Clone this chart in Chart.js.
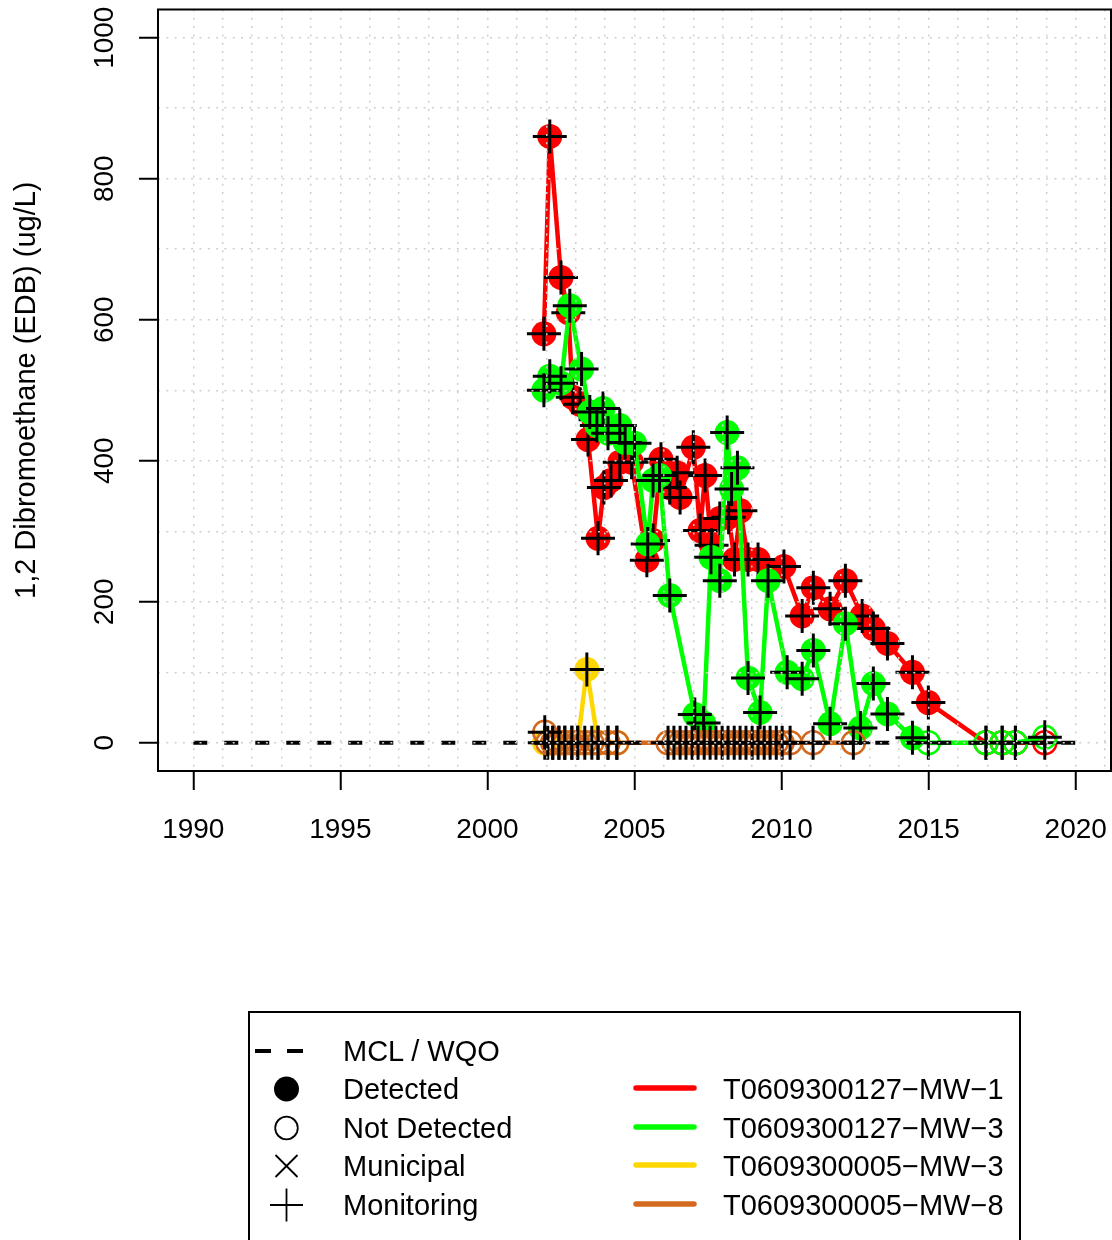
<!DOCTYPE html>
<html>
<head>
<meta charset="utf-8">
<title>1,2 Dibromoethane (EDB)</title>
<script src="https://cdn.jsdelivr.net/npm/chart.js@4/dist/chart.umd.min.js"></script>
<style>
  html, body { margin: 0; padding: 0; background: #fff; }
  body { width: 1112px; height: 1240px; position: relative; overflow: hidden;
         font-family: "Liberation Sans", Arial, Helvetica, sans-serif; color: #000; }
  #plot { position: absolute; left: 0; top: 0; }
  #keyBox { position: absolute; left: 248px; top: 1011px; width: 773px; height: 300px;
            border: 2px solid #000; box-sizing: border-box; }
  #keySymbols { position: absolute; left: 0; top: 0; }
  .keyText { position: absolute; font-size: 29px; line-height: 34px; white-space: nowrap; }
</style>
</head>
<body>
<canvas id="plot" width="1112" height="870"></canvas>
<div id="keyBox"></div>
<svg id="keySymbols" width="1112" height="1240"></svg>
<div id="keyTexts"></div>
<script>
// ---- sampling dates (decimal years) and concentrations (ug/L) ----
const mw1Years = [2001.92, 2002.12, 2002.5, 2002.75, 2002.9, 2003.15, 2003.42, 2003.76, 2003.96, 2004.2,
                  2004.5, 2004.9, 2005.42, 2005.63, 2005.9, 2006.2, 2006.45, 2006.55, 2007.0, 2007.23,
                  2007.4, 2007.62, 2007.9, 2008.2, 2008.4, 2008.6, 2008.86, 2009.2, 2010.08, 2010.7,
                  2011.08, 2011.65, 2012.17, 2012.74, 2013.12, 2013.6, 2014.45, 2014.99, 2016.95, 2017.5,
                  2017.95, 2018.95];
const mw1Values = [580, 860, 660, 610, 490, 480, 430, 290, 362, 372,
                   398, 398, 259, 287, 402, 362, 383, 348, 419, 301,
                   379, 280, 318, 320, 260, 329, 260, 260, 250, 180,
                   220, 190, 230, 180, 162, 141, 100, 57, 0, 0,
                   0, 0];
const mw1Detected = [1,1,1,1,1,1,1,1,1,1, 1,1,1,1,1,1,1,1,1,1, 1,1,1,1,1,1,1,1,1,1, 1,1,1,1,1,1,1,1,0,0, 0,0];

const mw3Years = [2001.92, 2002.12, 2002.5, 2002.8, 2003.2, 2003.48, 2003.72, 2003.93, 2004.1, 2004.5,
                  2004.68, 2005.0, 2005.45, 2005.63, 2005.85, 2006.2, 2007.05, 2007.35, 2007.6, 2007.9,
                  2008.15, 2008.3, 2008.5, 2008.86, 2009.27, 2009.54, 2010.19, 2010.7, 2011.08, 2011.65,
                  2012.17, 2012.68, 2013.12, 2013.6, 2014.45, 2014.99, 2016.95, 2017.5, 2017.95, 2018.95];
const mw3Values = [500, 520, 510, 620, 530, 469, 450, 474, 439, 450,
                   426, 425, 282, 372, 379, 209, 40, 28, 263, 230,
                   440, 360, 390, 92, 43, 230, 100, 91, 131, 27,
                   169, 21, 84, 41, 7, 0, 0, 0, 0, 8];
const mw3Detected = [1,1,1,1,1,1,1,1,1,1, 1,1,1,1,1,1,1,1,1,1, 1,1,1,1,1,1,1,1,1,1, 1,1,1,1,1,0,0,0,0,0];

const s5mw3Years = [2001.95, 2002.22, 2002.43, 2002.63, 2002.87, 2003.07, 2003.38, 2003.76, 2004.1, 2004.4];
const s5mw3Values = [0, 0, 0, 0, 0, 0, 104, 0, 0, 0];
const s5mw3Detected = [0, 0, 0, 0, 0, 0, 1, 0, 0, 0];

const s5mw8Years = [2001.95, 2002.05, 2002.22, 2002.43, 2002.63, 2002.87, 2003.07, 2003.31, 2003.55, 2003.76,
                    2004.1, 2004.4, 2006.14, 2006.34, 2006.55, 2006.75, 2006.96, 2007.16, 2007.37, 2007.57,
                    2007.77, 2007.98, 2008.18, 2008.39, 2008.59, 2008.79, 2009.0, 2009.2, 2009.41, 2009.61,
                    2009.82, 2010.02, 2010.29, 2011.07, 2012.44];
const s5mw8Values = [15, 0, 0, 0, 0, 0, 0, 0, 0, 0,
                     0, 0, 0, 0, 0, 0, 0, 0, 0, 0,
                     0, 0, 0, 0, 0, 0, 0, 0, 0, 0,
                     0, 0, 0, 0, 0];
const s5mw8Detected = s5mw8Values.map(() => 0);

// regulatory limit line
const mclYears = [1990, 2020];
const mclValue = 0.05;

// axis ticks
const xTickLabels = [1990, 1995, 2000, 2005, 2010, 2015, 2020];
const yTickLabels = [0, 200, 400, 600, 800, 1000];
const xGridYears = [];
for (let yr = 1990; yr <= 2021; yr++) xGridYears.push(yr);
const yGridValues = [];
for (let v = 0; v <= 1000; v += 100) yGridValues.push(v);

// well names and colours
const wellNames = ["T0609300127\u2212MW\u22121", "T0609300127\u2212MW\u22123",
                   "T0609300005\u2212MW\u22123", "T0609300005\u2212MW\u22128"];
const wellColors = ["#ff0000", "#00ff00", "#ffd700", "#d2691e"];
const symbolNames = ["MCL / WQO", "Detected", "Not Detected", "Municipal", "Monitoring"];

const FONT = "'Liberation Sans', Arial, Helvetica, sans-serif";

function toPoints(xs, ys) { return xs.map((x, i) => ({ x: x, y: ys[i] })); }

function wellDatasets(name, xs, ys, det, color, order) {
  return [
    {
      label: name,
      data: toPoints(xs, ys),
      borderColor: color,
      backgroundColor: color,
      borderWidth: 4.5,
      borderJoinStyle: 'round',
      borderCapStyle: 'round',
      tension: 0,
      fill: false,
      pointStyle: 'circle',
      pointRadius: det.map(d => d ? 12.5 : 11.5),
      pointHoverRadius: det.map(d => d ? 12.5 : 11.5),
      pointBackgroundColor: det.map(d => d ? color : 'rgba(0,0,0,0)'),
      pointBorderColor: color,
      pointBorderWidth: det.map(d => d ? 0 : 2.5),
      order: order
    },
    {
      label: name + ' monitoring',
      data: toPoints(xs, ys),
      showLine: false,
      pointStyle: 'cross',
      pointRadius: 17,
      pointHoverRadius: 17,
      pointBorderWidth: 3,
      pointBorderColor: '#000',
      pointBackgroundColor: '#000',
      order: order - 1
    }
  ];
}

const datasets = [].concat(
  wellDatasets(wellNames[0], mw1Years, mw1Values, mw1Detected, wellColors[0], 10),
  wellDatasets(wellNames[1], mw3Years, mw3Values, mw3Detected, wellColors[1], 8),
  wellDatasets(wellNames[2], s5mw3Years, s5mw3Values, s5mw3Detected, wellColors[2], 6),
  wellDatasets(wellNames[3], s5mw8Years, s5mw8Values, s5mw8Detected, wellColors[3], 4),
  [{
    label: symbolNames[0],
    data: mclYears.map(x => ({ x: x, y: mclValue })),
    borderColor: '#000',
    borderWidth: 4,
    borderDash: [14, 17],
    pointRadius: 0,
    pointHoverRadius: 0,
    fill: false,
    order: 2
  }]
);

// full box around the plotting region
const frameBox = {
  id: 'frameBox',
  afterDraw(chart) {
    const a = chart.chartArea, ctx = chart.ctx;
    ctx.save();
    ctx.strokeStyle = '#000';
    ctx.lineWidth = 2;
    ctx.strokeRect(a.left, a.top, a.right - a.left, a.bottom - a.top);
    ctx.restore();
  }
};

new Chart(document.getElementById('plot'), {
  type: 'line',
  data: { datasets: datasets },
  plugins: [frameBox],
  options: {
    responsive: false,
    animation: false,
    devicePixelRatio: 1,
    events: [],
    layout: { autoPadding: false, padding: { top: 9.5, right: 1, left: 0, bottom: 0 } },
    plugins: { legend: { display: false }, tooltip: { enabled: false } },
    scales: {
      x: {
        type: 'linear',
        min: 1988.8,
        max: 2021.2,
        afterBuildTicks(scale) { scale.ticks = xGridYears.map(v => ({ value: v })); },
        afterFit(scale) {
          scale.height = 99;
          scale.paddingLeft = 0;
          scale.paddingRight = 0;
        },
        ticks: {
          autoSkip: false, minRotation: 0, maxRotation: 0, padding: 23,
          color: '#000', font: { family: FONT, size: 28 },
          callback: v => xTickLabels.includes(v) ? String(v) : ''
        },
        grid: {
          z: 1, color: '#cfcfcf', lineWidth: 1.5,
          tickLength: 19, tickWidth: 2,
          tickColor: c => (c.tick && xTickLabels.includes(c.tick.value)) ? '#000' : 'rgba(0,0,0,0)'
        },
        border: { display: false, dash: [2, 6.3] }
      },
      y: {
        type: 'linear',
        min: -40,
        max: 1040,
        afterBuildTicks(scale) { scale.ticks = yGridValues.map(v => ({ value: v })); },
        afterFit(scale) {
          scale.width = 158;
          scale.paddingTop = 0;
          scale.paddingBottom = 0;
        },
        title: {
          display: true, text: '1,2 Dibromoethane (EDB) (ug/L)', color: '#000',
          font: { family: FONT, size: 29 }, padding: { top: 10, bottom: 0 }
        },
        ticks: {
          autoSkip: false, minRotation: 90, maxRotation: 90, crossAlign: 'center', padding: 3,
          color: '#000', font: { family: FONT, size: 28 },
          callback: v => yTickLabels.includes(v) ? String(v) : ''
        },
        grid: {
          z: 1, color: '#cfcfcf', lineWidth: 1.5,
          tickLength: 19, tickWidth: 2,
          tickColor: c => (c.tick && yTickLabels.includes(c.tick.value)) ? '#000' : 'rgba(0,0,0,0)'
        },
        border: { display: false, dash: [2, 6.3] }
      }
    }
  }
});

// ---- key below the plot ----
const svgNS = 'http://www.w3.org/2000/svg';
const svg = document.getElementById('keySymbols');
function svgEl(tag, attrs) {
  const el = document.createElementNS(svgNS, tag);
  for (const k in attrs) el.setAttribute(k, attrs[k]);
  svg.appendChild(el);
  return el;
}
const leftRows = [1051, 1089, 1128, 1166, 1205];
const rightRows = [1089, 1128, 1166, 1205];
const symX = 286.5;

// dashed limit line
svgEl('line', { x1: 255, y1: leftRows[0], x2: 271, y2: leftRows[0], stroke: '#000', 'stroke-width': 4 });
svgEl('line', { x1: 287, y1: leftRows[0], x2: 303, y2: leftRows[0], stroke: '#000', 'stroke-width': 4 });
// detected
svgEl('circle', { cx: symX, cy: leftRows[1], r: 12.5, fill: '#000' });
// not detected
svgEl('circle', { cx: symX, cy: leftRows[2], r: 11.3, fill: 'none', stroke: '#000', 'stroke-width': 1.8 });
// municipal
svgEl('line', { x1: symX - 11, y1: leftRows[3] - 11, x2: symX + 11, y2: leftRows[3] + 11, stroke: '#000', 'stroke-width': 1.8 });
svgEl('line', { x1: symX - 11, y1: leftRows[3] + 11, x2: symX + 11, y2: leftRows[3] - 11, stroke: '#000', 'stroke-width': 1.8 });
// monitoring
svgEl('line', { x1: symX - 16.5, y1: leftRows[4], x2: symX + 16.5, y2: leftRows[4], stroke: '#000', 'stroke-width': 1.8 });
svgEl('line', { x1: symX, y1: leftRows[4] - 16.5, x2: symX, y2: leftRows[4] + 16.5, stroke: '#000', 'stroke-width': 1.8 });
// well colours
wellColors.forEach((c, i) => {
  svgEl('line', { x1: 636, y1: rightRows[i] - 1, x2: 694, y2: rightRows[i] - 1, stroke: c,
                  'stroke-width': 5.5, 'stroke-linecap': 'round' });
});

const keyTexts = document.getElementById('keyTexts');
function addText(txt, x, cy) {
  const d = document.createElement('div');
  d.className = 'keyText';
  d.style.left = x + 'px';
  d.style.top = (cy - 17) + 'px';
  d.textContent = txt;
  keyTexts.appendChild(d);
}
symbolNames.forEach((t, i) => addText(t, 343, leftRows[i]));
wellNames.forEach((t, i) => addText(t, 723, rightRows[i]));
</script>
</body>
</html>
